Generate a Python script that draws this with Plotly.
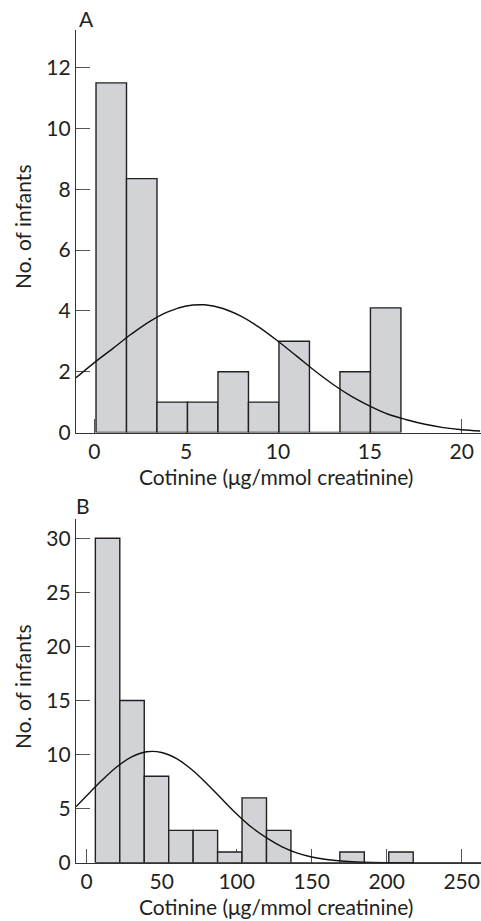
import plotly.graph_objects as go

# ---------------- data ----------------
# Panel A
bins_a_start = 0.09
bins_a_width = 1.66
counts_a = [11.5, 8.35, 1, 1, 2, 1, 3, 0, 2, 4.1]
curve_a_x = [-1, 0, 1, 2, 3, 4, 5, 6, 7, 8, 9, 10, 11, 12, 13, 14, 15, 16, 17, 18, 19, 20, 21]
curve_a_y = [1.80, 2.30, 2.76, 3.23, 3.65, 3.97, 4.16, 4.20, 4.08, 3.82, 3.45, 3.00,
             2.52, 2.03, 1.58, 1.19, 0.87, 0.60, 0.42, 0.27, 0.16, 0.09, 0.05]
ticks_a_x = [0, 5, 10, 15, 20]
ticks_a_y = [0, 2, 4, 6, 8, 10, 12]

# Panel B
bins_b_start = 5.8
bins_b_width = 16.3
counts_b = [30, 15, 8, 3, 3, 1, 6, 3, 0, 0, 1, 0, 1]
curve_b_x = [-7, 0, 10, 20, 30, 40, 50, 60, 70, 80, 90, 100, 110, 120, 130, 140,
             150, 160, 170, 180, 190, 200, 210, 220, 230, 240, 250, 263]
curve_b_y = [5.2, 6.2, 7.6, 8.86, 9.78, 10.26, 10.2, 9.63, 8.62, 7.33, 5.91, 4.52,
             3.28, 2.3, 1.5, 0.92, 0.54, 0.3, 0.16, 0.08, 0.04, 0.02, 0.01, 0, 0, 0, 0, 0]
ticks_b_x = [0, 50, 100, 150, 200, 250]
ticks_b_y = [0, 5, 10, 15, 20, 25, 30]

x_title = "Cotinine (μg/mmol creatinine)"
y_title = "No. of infants"

# ---------------- figure ----------------
W, H = 481, 921
FONT = "Lato"
TXT = "#231f20"
BAR_FILL = "#d1d3d6"
EDGE = "#231f20"

edges_a = [bins_a_start + i * bins_a_width for i in range(len(counts_a))]
edges_b = [bins_b_start + i * bins_b_width for i in range(len(counts_b))]

fig = go.Figure()
fig.add_trace(go.Bar(x=edges_a, y=counts_a, width=bins_a_width, offset=0,
                     marker=dict(color=BAR_FILL, line=dict(color=EDGE, width=1.4)),
                     xaxis="x", yaxis="y", showlegend=False, hoverinfo="skip"))
fig.add_trace(go.Scatter(x=curve_a_x, y=curve_a_y, mode="lines",
                         line=dict(color="#111", width=1.4, shape="spline"),
                         xaxis="x", yaxis="y", showlegend=False, hoverinfo="skip"))
fig.add_trace(go.Bar(x=edges_b, y=counts_b, width=bins_b_width, offset=0,
                     marker=dict(color=BAR_FILL, line=dict(color=EDGE, width=1.4)),
                     xaxis="x2", yaxis="y2", showlegend=False, hoverinfo="skip"))
fig.add_trace(go.Scatter(x=curve_b_x, y=curve_b_y, mode="lines",
                         line=dict(color="#111", width=1.4, shape="spline"),
                         xaxis="x2", yaxis="y2", showlegend=False, hoverinfo="skip"))


def px_x(p):
    return p / W


def px_y(p):
    return 1 - p / H


axis_common = dict(showgrid=False, zeroline=False, showline=True, linecolor="#333",
                   linewidth=1.2, ticks="inside", ticklen=14, tickwidth=1,
                   tickcolor="#555", layer="below traces", automargin=False,
                   tickfont=dict(family=FONT, size=21, color=TXT), fixedrange=True)

fig.update_layout(
    width=W, height=H,
    margin=dict(l=0, r=0, t=0, b=0, autoexpand=False),
    paper_bgcolor="white", plot_bgcolor="white",
    bargap=0,
    xaxis=dict(domain=[px_x(76), 1.0], range=[-1.0, 21.05], anchor="y",
               tickvals=ticks_a_x, **axis_common),
    yaxis=dict(domain=[px_y(432.5), px_y(30)], range=[0, 13.24], anchor="x",
               tickvals=ticks_a_y, **axis_common),
    xaxis2=dict(domain=[px_x(76), 1.0], range=[-7.1, 262.9], anchor="y2",
                tickvals=ticks_b_x, **axis_common),
    yaxis2=dict(domain=[px_y(862.8), px_y(519.3)], range=[0, 31.75], anchor="x2",
                tickvals=ticks_b_y, **axis_common),
)

title_font = dict(family=FONT, size=21, color=TXT)
annotations = [
    dict(text="A", x=px_x(77), y=px_y(18), xanchor="left", yanchor="middle"),
    dict(text="B", x=px_x(74), y=px_y(505), xanchor="left", yanchor="middle"),
    dict(text=x_title, x=px_x(276), y=px_y(476), xanchor="center", yanchor="middle"),
    dict(text=x_title, x=px_x(276), y=px_y(906), xanchor="center", yanchor="middle"),
    dict(text=y_title, x=px_x(22), y=px_y(227), xanchor="center", yanchor="middle", textangle=-90),
    dict(text=y_title, x=px_x(22), y=px_y(687), xanchor="center", yanchor="middle", textangle=-90),
]
for a in annotations:
    a.update(xref="paper", yref="paper", showarrow=False, font=title_font)
fig.update_layout(annotations=annotations)

fig.write_html("out.html",
               config={"displayModeBar": False, "staticPlot": True},
               post_script="document.body.style.margin='0';"
                           "document.body.style.overflow='hidden';"
                           "document.documentElement.style.overflow='hidden';")
